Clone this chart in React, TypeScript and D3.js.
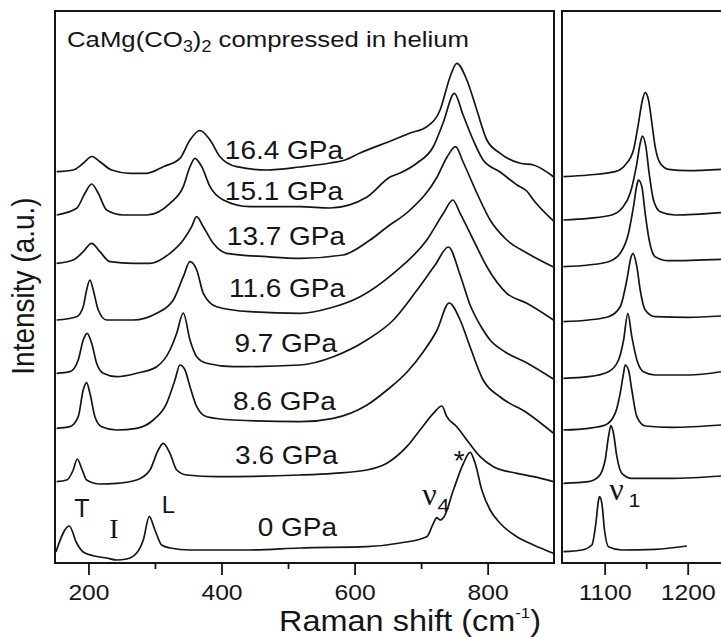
import React from "react";
import * as d3 from "d3";

type Pt = [number, number];

// ---- Data (Raman shift in cm-1, intensity in a.u. including stacking offset) ----
const pressureLabels = ["0 GPa", "3.6 GPa", "8.6 GPa", "9.7 GPa", "11.6 GPa", "13.7 GPa", "15.1 GPa", "16.4 GPa"];
const labelShift = [573, 574, 571, 573, 585, 585, 582, 582];
const labelIntensity = [27, 99, 153, 211, 266, 318, 363, 404];

const low_0: Pt[] = [[150.4,11],[170.4,37],[181.5,20],[191.4,11],[206.5,7.3],[226.6,5],[241.7,3],[256.7,4],[271.7,10],[281.7,23],[290.7,46.3],[299.2,33],[309.3,18],[321.8,15],[351.9,13],[442,13],[517,15],[617.6,16.3],[667.7,20],[707.8,26.3],[717.7,39.7],[722.9,45.3],[727.8,43],[733.8,46.3],[747.8,73],[762.9,99.7],[772.9,110.7],[780.5,99.7],[790.5,73],[803,53],[818,39.7],[843.2,26.3],[868.2,18],[898,9.7]];
const low_3_6: Pt[] = [[151.4,81.3],[166.5,83],[176.4,93],[182.4,104],[189,94.7],[196.5,83],[216.5,79],[241.7,79.7],[271.7,83],[291.7,93],[304.2,113],[311.7,119.7],[321.8,109.7],[331.9,93],[346.9,88],[392,86.3],[517.3,88],[567.4,89.7],[617.6,93],[647.7,99.7],[677.7,116.3],[697.7,133],[717.7,149.7],[730.4,157],[737.9,146.3],[752.9,136.3],[768,123],[788,106.3],[808,96.3],[843.2,89.7],[868.2,86.3],[898.2,81.3]];
const low_8_6: Pt[] = [[151.4,134.7],[171.4,136.3],[183.9,146.3],[191.4,173],[196.5,180.3],[201.5,169.7],[209,146.3],[219.1,136.3],[241.7,133],[271.7,134.7],[296.7,143],[316.8,159.7],[329.3,183],[336.8,198],[344.4,193],[351.9,176.3],[362,156.3],[377,146.3],[417,143],[517.3,141.3],[567.4,144.7],[618,158],[648.1,173],[678.2,191],[702.3,211],[723.3,233],[741.4,260],[757.9,243],[772.9,216],[792.5,183],[818.1,166],[858.7,150],[897.8,130]];
const low_9_7: Pt[] = [[151.4,189.7],[171.4,191.3],[183.9,203],[191.4,223],[197.4,229.7],[204.1,219.7],[211.6,199.7],[221.5,189.7],[241.7,186.3],[271.7,189.7],[301.8,196.3],[321.8,213],[331.9,229.7],[341.8,250],[351.9,223],[362,206.3],[377,199.7],[417,196.3],[517.3,198],[567.4,206.3],[617.6,223],[657.6,243],[693.2,273],[720.3,298],[740.3,316],[757.9,288],[772.9,258],[788,238],[803,223],[825.6,211],[855.7,201],[898,184]];
const low_11_6: Pt[] = [[151.4,243],[181.5,246.3],[191.4,256.3],[196.5,273],[201.5,283],[206.5,273],[214,253],[226.6,243],[266.6,243],[301.8,249.7],[326.8,263],[341.8,286.3],[351.9,301.3],[362,293],[371.9,269.7],[392,256.3],[442.1,251.3],[517.3,249.7],[562.4,255],[607.5,266.3],[657.6,289.7],[707.8,323],[732.8,349.7],[746.9,363],[757.9,349.7],[777.9,323],[798.1,296.3],[828.1,269.7],[858.2,259.7],[898.2,243]];
const low_13_7: Pt[] = [[151.4,299.7],[176.4,303],[191.4,311.3],[204.1,319.7],[216.5,311.3],[231.6,301.3],[266.6,299.7],[291.7,299.7],[321.8,309.7],[341.8,323],[354.4,336.3],[361.9,346.3],[371.9,336.3],[386.9,319.7],[407.1,309.7],[467.2,306.3],[517.3,304.7],[582,308],[622.6,323],[648.1,336],[682.7,353],[723.3,386],[738.3,406],[751.1,416.3],[762.4,401],[783,370],[803,343],[828.1,323],[858.2,310],[898.2,296]];
const low_15_1: Pt[] = [[151.4,348],[181.5,354.7],[194,369.7],[204.1,379],[214,369.7],[226.6,353],[251.6,348],[286.8,348],[321.8,359.7],[341.8,376.3],[351.9,396.3],[359.4,404.7],[369.5,396.3],[382,376.3],[402,363],[442.1,356.3],[517.3,356.3],[562.4,355],[618,366],[652.6,386],[667.7,390],[693.2,400],[717.3,416],[732.3,440],[749.3,469.7],[762.4,448],[777.5,423],[792.5,403],[818.1,391],[843.4,378],[858,372],[868.1,363],[898.2,342]];
const low_16_4: Pt[] = [[151.4,391.3],[176.4,393],[191.4,399.7],[204.5,406.5],[216.5,401.3],[234.1,393],[261.7,389.7],[286.8,389.7],[311.7,396.3],[336.8,404.7],[351.9,423],[366.9,432.5],[382,423],[397,406.3],[422.1,396.3],[467.2,393],[517.3,396],[562.4,400],[585,403],[607.5,410],[657.2,423],[682.7,430],[707.8,436.3],[727.8,453],[742.9,486.3],[752.9,499.7],[768,483],[783,453],[798.1,423],[818.1,409.7],[848.2,399.7],[868.2,398],[898.2,386.3]];

const high_0: Pt[] = [[1049.8,11.3],[1072,13],[1084,18],[1088.8,39.7],[1092,63],[1093.1,66.3],[1096,59.7],[1099.2,33],[1104,16.3],[1120.1,13],[1160.2,13.7],[1198.4,17]];
const high_3_6: Pt[] = [[1049.8,79.7],[1079.9,81.3],[1092,86.3],[1100,103],[1104,126.3],[1106.9,137.3],[1110,129.7],[1114.1,106.3],[1120.1,89.7],[1132.1,84.7],[1180.4,84.7],[1239.8,87]];
const high_8_6: Pt[] = [[1049.8,133],[1079.9,134.7],[1100,138],[1112,149.7],[1118.1,169.7],[1122.1,189.7],[1124.1,198],[1128.1,193],[1132.1,173],[1138.2,146.3],[1148.2,137],[1180.4,135.7],[1239.8,138]];
const high_9_7: Pt[] = [[1049.8,184.7],[1079.9,186.3],[1104,191.3],[1116.1,203],[1122.2,223],[1127.3,249.7],[1132.1,226.3],[1138.2,203],[1146.1,191.3],[1160.2,188],[1200.4,188],[1239.8,191.3]];
const high_11_6: Pt[] = [[1049.8,241.3],[1079.9,243],[1104,246.3],[1118.1,256.3],[1126.1,283],[1131.3,306.3],[1133.4,309.7],[1138.2,296.3],[1142.2,273],[1148.2,253],[1160.2,246.3],[1200.4,245.7],[1239.8,247]];
const high_13_7: Pt[] = [[1049.8,296.3],[1079.9,298],[1104,301.3],[1118.1,309.7],[1128.1,329.7],[1134.1,356.3],[1138.2,378],[1140.1,383],[1144.2,376.3],[1148.2,349.7],[1153,323],[1160.2,306.3],[1176.3,302.3],[1239.8,303.7]];
const high_15_1: Pt[] = [[1049.8,343],[1079.9,344.7],[1108,348],[1120.1,354.7],[1130.1,369.7],[1138.2,399.7],[1142.2,419.7],[1144.9,427],[1149,416.3],[1153,389.7],[1158.2,363],[1166.3,351.3],[1184.3,348],[1239.8,350.3]];
const high_16_4: Pt[] = [[1049.8,386.3],[1079.9,388],[1112,391.3],[1124.1,398],[1134.1,413],[1140.1,439.7],[1144.9,463],[1148.2,470.3],[1152.2,463],[1156.3,439.7],[1160.2,416.3],[1166.3,399.7],[1176.3,393.7],[1200.4,392.3],[1239.8,393.7]];

const lowSpectra = [low_0, low_3_6, low_8_6, low_9_7, low_11_6, low_13_7, low_15_1, low_16_4];
const highSpectra = [high_0, high_3_6, high_8_6, high_9_7, high_11_6, high_13_7, high_15_1, high_16_4];

const lowTicks = [200, 400, 600, 800];
const lowMinorTicks = [300, 500, 700];
const highTicks = [1100, 1200];
const highMinorTicks = [1150];

const titleMain = "CaMg(CO";
const xTitle = "Raman shift (cm";
const yTitle = "Intensity (a.u.)";

// ---- Layout ----
const W = 721, H = 637;
const TOP = 11, BOTTOM = 563;
const L0 = 55, L1 = 554, R0 = 562, R1 = 729.7;
const SANS = "'Liberation Sans', Arial, Helvetica, sans-serif";
const SERIF = "'Liberation Serif', 'Times New Roman', serif";
const ST = 1.12;
const INK = "#151515";

const xLow = d3.scaleLinear().domain([149, 899]).range([L0, L1]);
const xHigh = d3.scaleLinear().domain([1048, 1250]).range([R0, R1]);
const y = d3.scaleLinear().domain([0, 552]).range([BOTTOM, TOP]);

const lineLow = d3.line<Pt>().x(d => xLow(d[0])).y(d => y(d[1])).curve(d3.curveMonotoneX);
const lineHigh = d3.line<Pt>().x(d => xHigh(d[0])).y(d => y(d[1])).curve(d3.curveMonotoneX);

function Txt(props: { x: number; y: number; size: number; anchor?: string; family?: string; stretch?: number; children: React.ReactNode }) {
  const { x, y: yy, size, anchor = "start", family = SANS, stretch = ST, children } = props;
  return (
    <text transform={`translate(${x},${yy}) scale(${stretch},1)`} fontSize={size} fontFamily={family} textAnchor={anchor} fill={INK}>
      {children}
    </text>
  );
}

export default function App() {
  return (
    <svg width={W} height={H} viewBox={`0 0 ${W} ${H}`} style={{ position: "absolute", left: 0, top: 0, background: "#fff" }}>
      <rect x={0} y={0} width={W} height={H} fill="#fff" />
      <defs>
        <clipPath id="clipL"><rect x={L0} y={TOP} width={L1 - L0} height={BOTTOM - TOP} /></clipPath>
        <clipPath id="clipR"><rect x={R0} y={TOP} width={R1 - R0} height={BOTTOM - TOP} /></clipPath>
      </defs>

      {/* spectra */}
      <g clipPath="url(#clipL)" fill="none" stroke={INK} strokeWidth={1.7} strokeLinejoin="round">
        {lowSpectra.map((s, i) => <path key={i} d={lineLow(s) || ""} />)}
      </g>
      <g clipPath="url(#clipR)" fill="none" stroke={INK} strokeWidth={1.7} strokeLinejoin="round">
        {highSpectra.map((s, i) => <path key={i} d={lineHigh(s) || ""} />)}
      </g>

      {/* frames */}
      <rect x={L0} y={TOP} width={L1 - L0} height={BOTTOM - TOP} fill="none" stroke={INK} strokeWidth={2} />
      <path d={`M${W + 5},${TOP} H${R0} V${BOTTOM} H${W + 5}`} fill="none" stroke={INK} strokeWidth={2} />

      {/* ticks */}
      <g stroke={INK} strokeWidth={1.8}>
        {lowTicks.map(t => <line key={"lt" + t} x1={xLow(t)} x2={xLow(t)} y1={BOTTOM} y2={BOTTOM + 12} />)}
        {lowMinorTicks.map(t => <line key={"lm" + t} x1={xLow(t)} x2={xLow(t)} y1={BOTTOM} y2={BOTTOM + 6} />)}
        {highTicks.map(t => <line key={"ht" + t} x1={xHigh(t)} x2={xHigh(t)} y1={BOTTOM} y2={BOTTOM + 12} />)}
        {highMinorTicks.map(t => <line key={"hm" + t} x1={xHigh(t)} x2={xHigh(t)} y1={BOTTOM} y2={BOTTOM + 6} />)}
      </g>
      {lowTicks.map(t => <Txt key={"ll" + t} x={xLow(t)} y={600} size={22} anchor="middle">{String(t)}</Txt>)}
      {highTicks.map(t => <Txt key={"hl" + t} x={xHigh(t)} y={600} size={22} anchor="middle">{String(t)}</Txt>)}

      {/* axis titles */}
      <Txt x={410} y={631} size={29} anchor="middle">
        {xTitle}
        <tspan dy={-13} fontSize={15}>-1</tspan>
        <tspan dy={13}>)</tspan>
      </Txt>
      <text transform={`translate(34,286) rotate(-90) scale(1,1.1)`} fontSize={28} fontFamily={SANS} textAnchor="middle" fill={INK}>{yTitle}</text>

      {/* chart title */}
      <Txt x={67} y={47} size={23}>
        {titleMain}
        <tspan dy={5} fontSize={16}>3</tspan>
        <tspan dy={-5}>)</tspan>
        <tspan dy={5} fontSize={16}>2</tspan>
        <tspan dy={-5}> compressed in helium</tspan>
      </Txt>

      {/* pressure labels */}
      {pressureLabels.map((p, i) => (
        <Txt key={p} x={xLow(labelShift[i])} y={y(labelIntensity[i])} size={25} anchor="end">{p}</Txt>
      ))}

      {/* band annotations */}
      <Txt x={xLow(189.5)} y={y(46)} size={25} anchor="middle" stretch={1}>T</Txt>
      <Txt x={xLow(237.6)} y={y(25)} size={28} anchor="middle" family={SERIF} stretch={1}>I</Txt>
      <Txt x={xLow(319.5)} y={y(50)} size={24} anchor="middle" stretch={1}>L</Txt>
      <Txt x={xLow(701)} y={y(58)} size={32} family={SERIF} stretch={1}>ν</Txt>
      <Txt x={xLow(724)} y={y(51)} size={19}>4</Txt>
      <Txt x={xLow(756.4)} y={y(93)} size={28} anchor="middle" stretch={1}>*</Txt>
      <Txt x={xHigh(1105)} y={y(63)} size={32} family={SERIF} stretch={1}>ν</Txt>
      <Txt x={xHigh(1128)} y={y(56)} size={19}>1</Txt>
    </svg>
  );
}
